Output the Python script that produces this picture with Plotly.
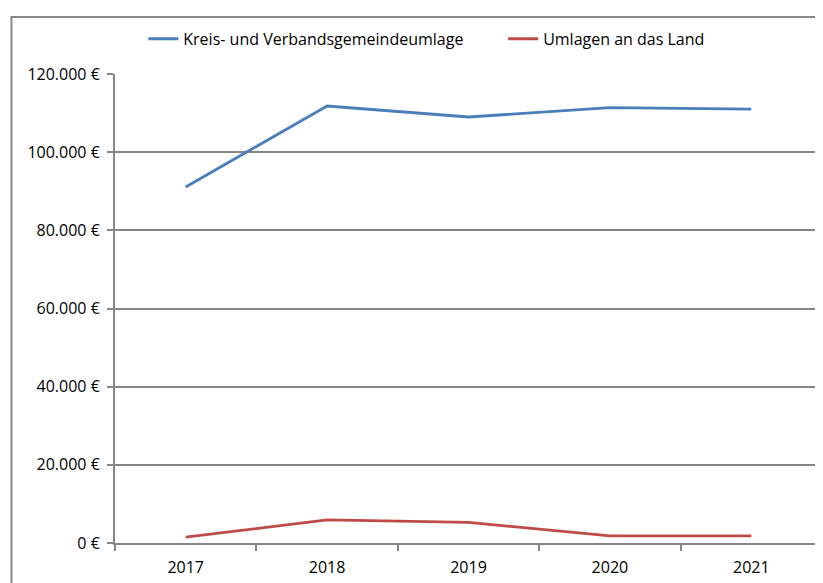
import plotly.graph_objects as go

years = ["2017", "2018", "2019", "2020", "2021"]
kreis = [91100, 111800, 109000, 111400, 111000]
land = [1500, 5900, 5300, 1800, 1800]
y_tickvals = [0, 20000, 40000, 60000, 80000, 100000, 120000]
y_ticktext = ["0 €", "20.000 €", "40.000 €", "60.000 €", "80.000 €", "100.000 €", "120.000 €"]

FONT = "Open Sans, Liberation Sans, sans-serif"
GRID = "#868686"

fig = go.Figure()
fig.add_trace(go.Scatter(x=years, y=kreis, mode="lines", name="Kreis- und Verbandsgemeindeumlage",
                         line=dict(color="#4a7ebb", width=2.8), legend="legend"))
fig.add_trace(go.Scatter(x=years, y=land, mode="lines", name="Umlagen an das Land",
                         line=dict(color="#be4b48", width=2.8), legend="legend2"))

leg_common = dict(orientation="h", xanchor="left", y=1.075, yanchor="middle",
                  font=dict(family=FONT, size=16), bgcolor="rgba(0,0,0,0)")

# page body has an 8px default margin, so the figure is sized/offset to compensate
fig.update_layout(
    width=815, height=575,
    margin=dict(l=107, r=1, t=66, b=40, autoexpand=False),
    paper_bgcolor="white", plot_bgcolor="white",
    font=dict(family=FONT, size=16, color="#000000"),
    showlegend=True,
    legend=dict(x=0.04, **leg_common),
    legend2=dict(x=0.549, **leg_common),
    xaxis=dict(type="category", range=[-0.5, 4.5], showgrid=False,
               showline=True, linecolor=GRID, linewidth=2,
               tickson="boundaries",
               ticks="outside", ticklen=6, tickcolor=GRID, tickwidth=2,
               ticklabelstandoff=9,
               zeroline=False, tickfont=dict(family=FONT, size=16)),
    yaxis=dict(range=[0, 120000], tickvals=y_tickvals, ticktext=y_ticktext,
               showgrid=True, gridcolor=GRID, gridwidth=2,
               showline=True, linecolor=GRID, linewidth=2,
               ticks="outside", ticklen=6, tickcolor=GRID, tickwidth=2,
               ticklabelstandoff=4,
               zeroline=False, tickfont=dict(family=FONT, size=16)),
)

fig.add_shape(type="rect", xref="paper", yref="paper",
              x0=-0.1464, x1=1.02, y0=-0.15, y1=1.1215,
              line=dict(color="#888888", width=2), fillcolor="rgba(0,0,0,0)", layer="below")

fig.write_html("out.html")
